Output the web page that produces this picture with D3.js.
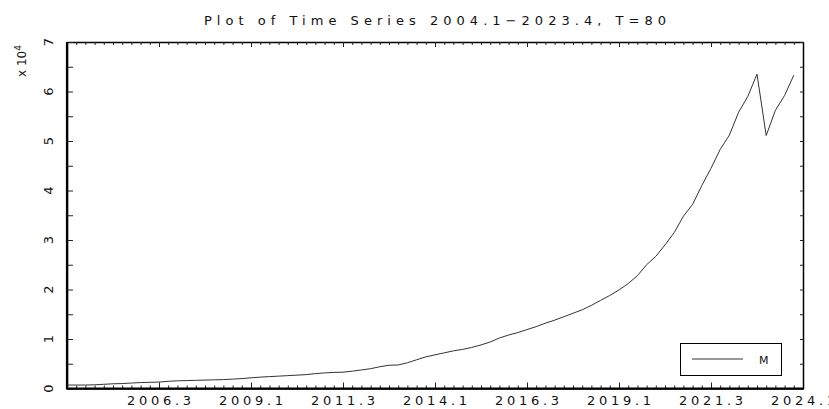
<!DOCTYPE html>
<html>
<head>
<meta charset="utf-8">
<script src="https://cdn.jsdelivr.net/npm/d3@7"></script>
<style>
    body { margin: 0; background: #fff; }
    text { font-family: "DejaVu Sans", sans-serif; fill: #111; }
</style>
</head>
<body>
<svg id="chart" width="829" height="409"></svg>
<script>

// quarterly series M, 2004.1 - 2023.4 (T=80)
var values = [
    700, 700, 700, 750, 850, 950, 1000, 1100, 1200, 1250,
    1300, 1450, 1550, 1600, 1650, 1700, 1750, 1800, 1900, 2000,
    2150, 2300, 2400, 2500, 2600, 2700, 2800, 3000, 3150, 3250,
    3300, 3500, 3750, 4000, 4400, 4700, 4750, 5200, 5800, 6400,
    6800, 7200, 7600, 7900, 8300, 8800, 9400, 10200, 10800, 11300,
    11900, 12500, 13200, 13800, 14500, 15200, 15900, 16800, 17800, 18800,
    19900, 21200, 22800, 25000, 26700, 29000, 31500, 34800, 37200, 41000,
    44500, 48300, 51200, 55800, 59000, 63500, 51100, 56200, 59200, 63300
];

var tickIndex = [10, 20, 30, 40, 50, 60, 70, 80];
var tickLabels = ["2006.3", "2009.1", "2011.3", "2014.1", "2016.3", "2019.1", "2021.3", "2024.1"];

var yTicks = [0, 1, 2, 3, 4, 5, 6, 7];
var seriesName = "M";
var title = "Plot of Time Series 2004.1\u22122023.4, T=80";

var plotLeft = 67, plotRight = 803, plotTop = 42, plotBottom = 388.5;

var svg = d3.select('#chart');

var x = d3.scaleLinear().domain([0, 80]).range([plotLeft, plotRight]);
var y = d3.scaleLinear().domain([0, 7]).range([plotBottom, plotTop]);

// title
svg.append('text')
    .attr('x', 435)
    .attr('y', 25)
    .attr('text-anchor', 'middle')
    .attr('font-size', 13)
    .attr('textLength', 462)
    .attr('lengthAdjust', 'spacing')
    .text(title);

// ticks every quarter, longer on labelled ones
var quarters = d3.range(0, 81);

var bottomAxis = d3.axisBottom(x)
    .tickValues(quarters)
    .tickSizeInner(-3)
    .tickSizeOuter(0)
    .tickFormat('');

svg.append('g')
    .attr('transform', 'translate(0,' + plotBottom + ')')
    .call(bottomAxis)
    .call(g => g.selectAll('.tick line')
        .attr('y2', d => tickIndex.indexOf(d) >= 0 ? -6 : -3));

var topAxis = d3.axisTop(x)
    .tickValues(quarters)
    .tickSizeInner(-3)
    .tickSizeOuter(0)
    .tickFormat('');

svg.append('g')
    .attr('transform', 'translate(0,' + plotTop + ')')
    .call(topAxis)
    .call(g => g.selectAll('.tick line')
        .attr('y2', d => tickIndex.indexOf(d) >= 0 ? 5 : 3));

// x labels
svg.append('g')
    .selectAll('text')
    .data(tickIndex)
    .join('text')
    .attr('x', d => x(d))
    .attr('y', 405)
    .attr('text-anchor', 'middle')
    .attr('font-size', 13)
    .attr('textLength', 64)
    .attr('lengthAdjust', 'spacing')
    .text((d, i) => tickLabels[i]);

// y axes, ticks every half unit
var halves = d3.range(0, 7.01, 0.5);

var leftAxis = d3.axisLeft(y)
    .tickValues(halves)
    .tickSizeInner(-6)
    .tickSizeOuter(0)
    .tickFormat('');

svg.append('g')
    .attr('transform', 'translate(' + plotLeft + ',0)')
    .call(leftAxis);

var rightAxis = d3.axisRight(y)
    .tickValues(halves)
    .tickSizeInner(-3)
    .tickSizeOuter(0)
    .tickFormat('');

svg.append('g')
    .attr('transform', 'translate(' + plotRight + ',0)')
    .call(rightAxis);

svg.selectAll('.domain').attr('stroke', '#000').attr('stroke-width', 1.5);
svg.selectAll('.tick line').attr('stroke', '#222').attr('stroke-width', 1);

// heavier left and bottom frame
svg.append('line')
    .attr('x1', plotLeft).attr('x2', plotLeft)
    .attr('y1', plotTop).attr('y2', plotBottom + 1)
    .attr('stroke', '#000').attr('stroke-width', 2.2);
svg.append('line')
    .attr('x1', plotLeft).attr('x2', plotRight + 1)
    .attr('y1', plotBottom).attr('y2', plotBottom)
    .attr('stroke', '#000').attr('stroke-width', 2.2);

// y labels, rotated
svg.append('g')
    .selectAll('text')
    .data(yTicks)
    .join('text')
    .attr('transform', d => 'translate(53,' + y(d) + ') rotate(-90)')
    .attr('text-anchor', 'middle')
    .attr('font-size', 13)
    .text(d => d);

var expLabel = svg.append('text')
    .attr('transform', 'translate(26,61) rotate(-90)')
    .attr('text-anchor', 'middle')
    .attr('font-size', 12);
expLabel.append('tspan').text('x 10');
expLabel.append('tspan').attr('dy', -5).attr('font-size', 9).text('4');

// series
var line = d3.line()
    .x((d, i) => x(i))
    .y(d => y(d / 10000));

svg.append('path')
    .datum(values)
    .attr('d', line)
    .attr('fill', 'none')
    .attr('stroke', '#333')
    .attr('stroke-width', 1);

// legend
var legend = svg.append('g');
legend.append('rect')
    .attr('x', 680.5).attr('y', 343.5)
    .attr('width', 101).attr('height', 32)
    .attr('fill', '#fff')
    .attr('stroke', '#000')
    .attr('stroke-width', 1);
legend.append('line')
    .attr('x1', 692).attr('x2', 743)
    .attr('y1', 359).attr('y2', 359)
    .attr('stroke', '#333').attr('stroke-width', 1);
legend.append('text')
    .attr('x', 759).attr('y', 363.5)
    .attr('font-size', 11)
    .text(seriesName);

</script>
</body>
</html>
